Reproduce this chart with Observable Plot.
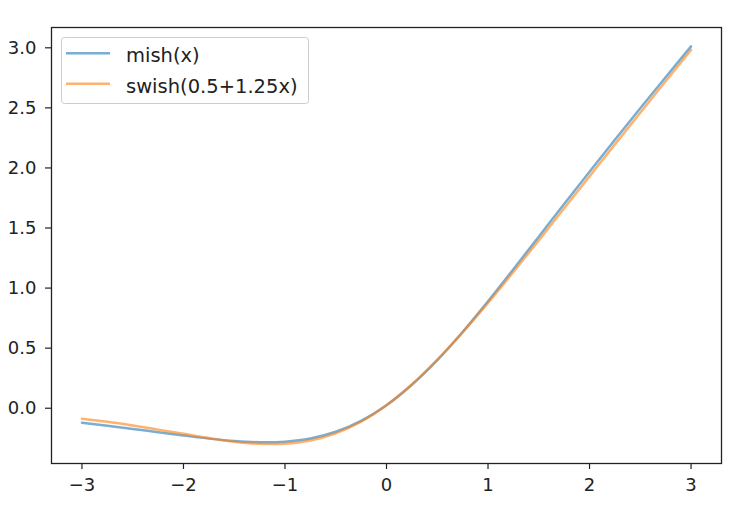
<!DOCTYPE html>
<html>
<head>
<meta charset="utf-8">
<script src="https://cdn.jsdelivr.net/npm/d3@7"></script>
<script src="https://cdn.jsdelivr.net/npm/@observablehq/plot@0.6"></script>
<style>
  html, body { margin: 0; padding: 0; background: white; }
  #wrap { position: relative; width: 748px; height: 514px; }
  #legend { position: absolute; left: 0; top: 0; pointer-events: none; }
</style>
</head>
<body>
<div id="wrap"></div>
<script>
// x samples
const xs = [-3, -2.75, -2.5, -2.25, -2, -1.75, -1.5, -1.25, -1, -0.75, -0.5, -0.25, 0,
            0.25, 0.5, 0.75, 1, 1.25, 1.5, 1.75, 2, 2.25, 2.5, 2.75, 3];
// series
const mishValues = [-0.146, -0.170, -0.197, -0.225, -0.252, -0.278, -0.298, -0.308, -0.303, -0.277, -0.221, -0.130, 0,
                    0.170, 0.375, 0.610, 0.865, 1.132, 1.403, 1.675, 1.944, 2.210, 2.472, 2.730, 2.987];
const swishValues = [-0.112, -0.138, -0.169, -0.203, -0.238, -0.273, -0.303, -0.321, -0.321, -0.294, -0.234, -0.137, 0,
                     0.173, 0.378, 0.606, 0.852, 1.109, 1.372, 1.639, 1.905, 2.171, 2.435, 2.697, 2.958];
const seriesNames = ["mish(x)", "swish(0.5+1.25x)"];
const seriesColors = ["#1f77b4", "#ff7f0e"];
const xTicks = [-3, -2, -1, 0, 1, 2, 3];
const yTicks = [0, 0.5, 1, 1.5, 2, 2.5, 3];

const data = [
  ...xs.map((x, i) => ({x, y: mishValues[i], s: seriesNames[0]})),
  ...xs.map((x, i) => ({x, y: swishValues[i], s: seriesNames[1]}))
];

const W = 748, H = 514;
const mL = 51, mR = 27, mT = 27, mB = 51;

const chart = Plot.plot({
  width: W, height: H,
  marginLeft: mL, marginRight: mR, marginTop: mT, marginBottom: mB,
  style: {fontFamily: "DejaVu Sans", fontSize: "18px", color: "#222", background: "white"},
  x: {domain: [-3.3, 3.3]},
  y: {domain: [-0.485, 3.144]},
  color: {domain: seriesNames, range: seriesColors},
  marks: [
    Plot.axisX({ticks: xTicks, tickSize: 6, tickPadding: 9, stroke: "#222", strokeWidth: 1.2,
                tickFormat: d => d3.format("d")(d), label: null}),
    Plot.axisY({ticks: yTicks, tickSize: 6, tickPadding: 9, stroke: "#222", strokeWidth: 1.2,
                tickFormat: d3.format(".1f"), label: null, dy: 3}),
    Plot.line(data.filter(d => d.s === seriesNames[0]), {x: "x", y: "y", stroke: "s", strokeWidth: 2.5, strokeOpacity: 0.6, curve: "catmull-rom"}),
    Plot.line(data.filter(d => d.s === seriesNames[1]), {x: "x", y: "y", stroke: "s", strokeWidth: 2.5, strokeOpacity: 0.6, curve: "catmull-rom"}),
    Plot.frame({stroke: "#222", strokeWidth: 1.3})
  ]
});

const wrap = document.getElementById("wrap");
wrap.appendChild(chart);

// legend overlay
const ns = "http://www.w3.org/2000/svg";
const lg = document.createElementNS(ns, "svg");
lg.setAttribute("id", "legend");
lg.setAttribute("width", W);
lg.setAttribute("height", H);
lg.style.fontFamily = "DejaVu Sans";
lg.style.fontSize = "19.5px";
const box = document.createElementNS(ns, "rect");
box.setAttribute("x", 61.5); box.setAttribute("y", 37.5);
box.setAttribute("width", 247); box.setAttribute("height", 66);
box.setAttribute("rx", 3);
box.setAttribute("fill", "white"); box.setAttribute("fill-opacity", 0.8);
box.setAttribute("stroke", "#ccc");
lg.appendChild(box);
seriesNames.forEach((name, i) => {
  const cy = 53.3 + i * 30.5;
  const ln = document.createElementNS(ns, "line");
  ln.setAttribute("x1", 66); ln.setAttribute("x2", 110);
  ln.setAttribute("y1", cy); ln.setAttribute("y2", cy);
  ln.setAttribute("stroke", seriesColors[i]);
  ln.setAttribute("stroke-width", 2.5);
  ln.setAttribute("stroke-opacity", 0.6);
  lg.appendChild(ln);
  const t = document.createElementNS(ns, "text");
  t.setAttribute("x", 126); t.setAttribute("y", cy + 9);
  t.setAttribute("fill", "#222");
  t.textContent = name;
  lg.appendChild(t);
});
wrap.appendChild(lg);
</script>
</body>
</html>
